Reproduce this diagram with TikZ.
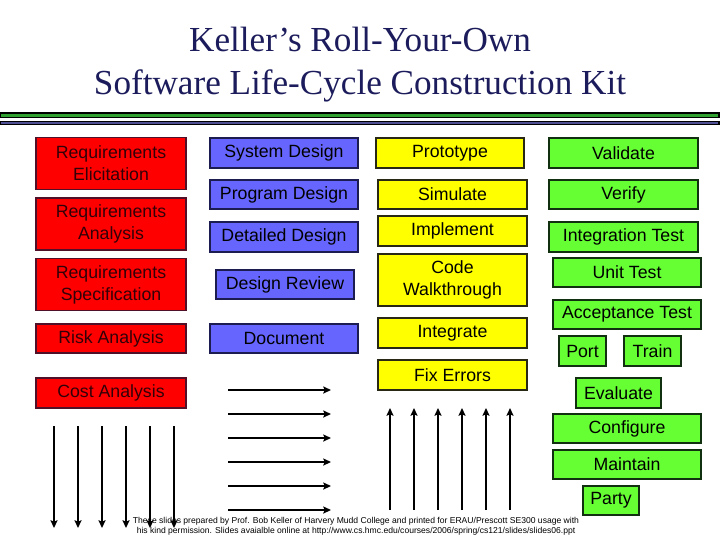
\documentclass[tikz,border=0pt]{standalone}
\usepackage{fontspec}
\setmainfont{Liberation Serif}
\setsansfont{Liberation Sans}
\usetikzlibrary{arrows.meta}
\tikzset{>={Stealth[length=5.5pt, width=5pt, inset=1pt]}}
\definecolor{titlenavy}{RGB}{28,28,92}
\definecolor{kitred}{RGB}{255,0,0}
\definecolor{kitredline}{RGB}{80,16,40}
\definecolor{kitredtext}{RGB}{50,0,8}
\definecolor{kitblue}{RGB}{102,102,255}
\definecolor{kitblueline}{RGB}{28,28,80}
\definecolor{kityellow}{RGB}{255,255,0}
\definecolor{kityellowline}{RGB}{40,40,20}
\definecolor{kitgreen}{RGB}{102,255,51}
\definecolor{kitgreenline}{RGB}{16,48,16}
\definecolor{bargreen}{RGB}{48,160,48}
\definecolor{barblue}{RGB}{80,80,150}
\tikzset{
  kitbox/.style={draw, line width=1.4pt, inner sep=0pt, align=center, minimum height=0.74cm,
    font=\sffamily\fontsize{12.6}{15.6}\selectfont},
  redbox/.style={kitbox, fill=kitred, draw=kitredline, text=kitredtext, minimum width=3.75cm},
  bluebox/.style={kitbox, fill=kitblue, draw=kitblueline, minimum width=3.7cm},
  yellowbox/.style={kitbox, fill=kityellow, draw=kityellowline, minimum width=3.72cm},
  greenbox/.style={kitbox, fill=kitgreen, draw=kitgreenline, minimum width=3.72cm},
  kitarrow/.style={->, line width=1.4pt}
}

\begin{document}
\begin{tikzpicture}[x=0.025cm, y=-0.025cm]
    \useasboundingbox (0,0) rectangle (720,540);
    \node[font=\fontsize{25}{30.5}\selectfont, text=titlenavy, align=center] (title) at (360,65)
        {Keller's Roll-Your-Own\\Software Life-Cycle Construction Kit};
    \draw[fill=bargreen, line width=1pt] (0,113) rectangle (719,117.5);
    \draw[fill=barblue, line width=0.8pt] (0,121.5) rectangle (719,124.5);

    % requirements
    \node[redbox, minimum height=1.3cm] (relicit) at (111,163.5) {Requirements\\Elicitation};
    \node[redbox, minimum height=1.28cm] (ranalysis) at (111,224) {Requirements\\Analysis};
    \node[redbox, minimum height=1.3cm] (rspec) at (111,284.5) {Requirements\\Specification};
    \node[redbox] (risk) at (111,338.5) {Risk Analysis};
    \node[redbox] (cost) at (111,393) {Cost Analysis};

    % design
    \node[bluebox] (sysdes) at (284,153) {System Design};
    \node[bluebox] (progdes) at (284,194.5) {Program Design};
    \node[bluebox] (detdes) at (284,237) {Detailed Design};
    \node[bluebox, minimum width=3.45cm] (desrev) at (285,284.5) {Design Review};
    \node[bluebox] (document) at (284,338.5) {Document};

    % build
    \node[yellowbox] (proto) at (450,153) {Prototype};
    \node[yellowbox] (simulate) at (452.5,194.5) {Simulate};
    \node[yellowbox] (implement) at (452.5,231) {Implement};
    \node[yellowbox, minimum height=1.28cm] (codewalk) at (452.5,280) {Code\\Walkthrough};
    \node[yellowbox] (integrate) at (452.5,333) {Integrate};
    \node[yellowbox] (fixerr) at (452.5,375) {Fix Errors};

    % test and deliver
    \node[greenbox] (validate) at (623.5,153) {Validate};
    \node[greenbox] (verify) at (623.5,194.5) {Verify};
    \node[greenbox] (inttest) at (623.5,237) {Integration Test};
    \node[greenbox] (unittest) at (627,272.5) {Unit Test};
    \node[greenbox] (acctest) at (627,314.5) {Acceptance Test};
    \node[greenbox, minimum width=1.18cm] (port) at (582.5,351) {Port};
    \node[greenbox, minimum width=1.43cm] (train) at (652.5,351) {Train};
    \node[greenbox, minimum width=2.13cm] (evaluate) at (618.5,393) {Evaluate};
    \node[greenbox] (configure) at (627,428.5) {Configure};
    \node[greenbox] (maintain) at (627,464.5) {Maintain};
    \node[greenbox, minimum width=1.4cm] (party) at (611,500.5) {Party};

    % arrows
    \foreach \i in {0,...,5} {
        \coordinate (dtop\i) at (54+24*\i,426);
        \coordinate (dend\i) at (54+24*\i,528);
        \draw[kitarrow] (dtop\i) -- (dend\i);
        \coordinate (rtail\i) at (228,390+24*\i);
        \coordinate (rend\i) at (331,390+24*\i);
        \draw[kitarrow] (rtail\i) -- (rend\i);
        \coordinate (ubot\i) at (390+24*\i,510);
        \coordinate (uend\i) at (390+24*\i,408);
        \draw[kitarrow] (ubot\i) -- (uend\i);
    }

    \node[font=\sffamily\fontsize{6.1}{7.1}\selectfont, align=center] (credit) at (356,526)
        {These slides prepared by Prof. Bob Keller of Harvery Mudd College and printed for ERAU/Prescott SE300 usage with\\
         his kind permission. Slides avaialble online at http://www.cs.hmc.edu/courses/2006/spring/cs121/slides/slides06.ppt};
\end{tikzpicture}
\end{document}
